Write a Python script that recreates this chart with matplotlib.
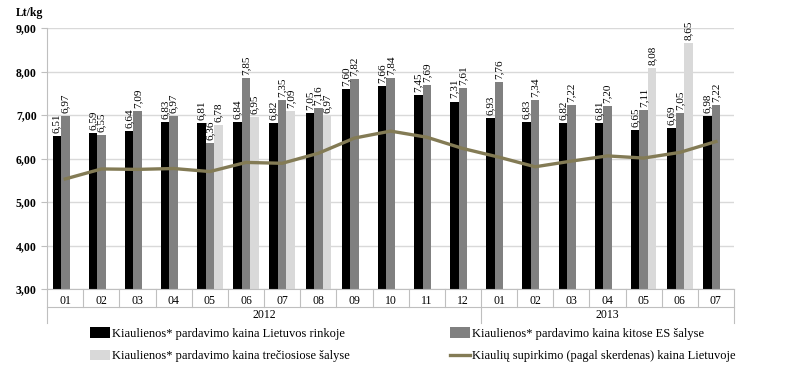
import numpy as np
import matplotlib.pyplot as plt
from matplotlib.ticker import FuncFormatter

months = ['01', '02', '03', '04', '05', '06', '07', '08', '09', '10', '11', '12',
          '01', '02', '03', '04', '05', '06', '07']
years = ['2012', '2013']
lt_market = [6.51, 6.59, 6.64, 6.83, 6.81, 6.84, 6.82, 7.05, 7.60, 7.66, 7.45, 7.31,
             6.93, 6.83, 6.82, 6.81, 6.65, 6.69, 6.98]
eu_market = [6.97, 6.55, 7.09, 6.97, 6.36, 7.85, 7.35, 7.16, 7.82, 7.84, 7.69, 7.61,
             7.76, 7.34, 7.22, 7.20, 7.11, 7.05, 7.22]
third_market = [np.nan, np.nan, np.nan, np.nan, 6.78, 6.95, 7.09, 6.97, np.nan, np.nan, np.nan, np.nan,
                np.nan, np.nan, np.nan, np.nan, 8.08, 8.65, np.nan]
purchase = [5.53, 5.76, 5.75, 5.77, 5.70, 5.91, 5.89, 6.12, 6.47, 6.63, 6.49, 6.23,
            6.03, 5.81, 5.94, 6.06, 6.01, 6.14, 6.39]

labels = ['Kiaulienos* pardavimo kaina Lietuvos rinkoje',
          'Kiaulienos* pardavimo kaina kitose ES šalyse',
          'Kiaulienos* pardavimo kaina trečiosiose šalyse',
          'Kiaulių supirkimo (pagal skerdenas) kaina Lietuvoje']

plt.rcParams['font.family'] = ['Liberation Serif', 'DejaVu Serif']

fig = plt.figure(figsize=(8, 3.77), dpi=100)
ax = fig.add_axes([0.059, 0.2334, 0.8585, 0.6923])

x = np.arange(len(months))
w = 0.235
b1 = ax.bar(x - w, lt_market, w, color='black', label=labels[0], zorder=2)
b2 = ax.bar(x, eu_market, w, color='#808080', label=labels[1], zorder=2)
b3 = ax.bar(x + w, third_market, w, color='#d9d9d9', label=labels[2], zorder=2)
ln, = ax.plot(x, purchase, color='#837b55', lw=2.4, label=labels[3], zorder=3)

fmt = lambda v: f'{v:.2f}'.replace('.', ',')
for bars, vals in [(b1, lt_market), (b2, eu_market), (b3, third_market)]:
    for r, v in zip(bars, vals):
        if np.isnan(v):
            continue
        ax.text(r.get_x() + r.get_width() / 2, v + 0.07, fmt(v), rotation=90,
                ha='center', va='bottom', fontsize=8, zorder=4)

ax.set_ylim(3, 9)
ax.set_xlim(-0.5, len(months) - 0.5)
ax.set_yticks(np.arange(3, 9.01, 1))
ax.yaxis.set_major_formatter(FuncFormatter(lambda v, p: f'{v:.2f}'.replace('.', ',')))
ax.tick_params(axis='y', length=4, color='#bfbfbf', labelsize=8.5)
for t in ax.get_yticklabels():
    t.set_fontweight('bold')
ax.grid(axis='y', color='#d9d9d9', lw=1, zorder=0)
ax.set_xticks([])
for s in ['top', 'right']:
    ax.spines[s].set_visible(False)
ax.spines['left'].set_color('#bfbfbf')
ax.spines['bottom'].set_color('#bfbfbf')
ax.text(-0.045, 1.035, 'Lt/kg', transform=ax.transAxes, fontsize=8.5,
        fontweight='bold', ha='left', va='bottom')

# category axis: month labels, separators, year labels
trans = ax.get_xaxis_transform()
for i, m in enumerate(months):
    ax.text(i, -0.045, m, transform=trans, ha='center', va='center', fontsize=8.5)
for i in range(len(months) + 1):
    long = i in (0, 12, len(months))
    ax.plot([i - 0.5, i - 0.5], [0, -0.13 if long else -0.07], transform=trans,
            color='#bfbfbf', lw=0.8, clip_on=False)
ax.plot([-0.5, len(months) - 0.5], [-0.07, -0.07], transform=trans,
        color='#bfbfbf', lw=0.8, clip_on=False)
ax.text(5.5, -0.1, years[0], transform=trans, ha='center', va='center', fontsize=8.5)
ax.text(15, -0.1, years[1], transform=trans, ha='center', va='center', fontsize=8.5)

fig.legend(handles=[b1, b3, b2, ln], ncol=2, loc='center', bbox_to_anchor=(0.516, 0.085),
           frameon=False, fontsize=9, handlelength=1.6, handleheight=0.9,
           handletextpad=0.2, columnspacing=8, labelspacing=0.8)

fig.savefig('out.png', dpi=100)
